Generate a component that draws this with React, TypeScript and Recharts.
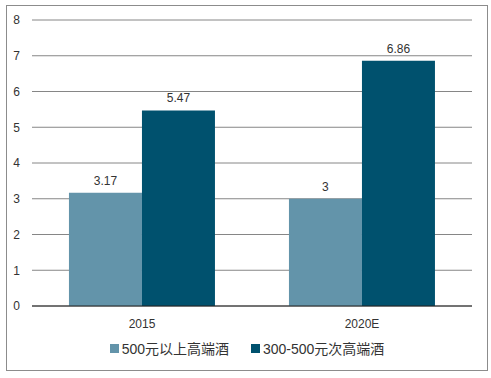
import React from "react";
import {
  BarChart,
  Bar,
  XAxis,
  YAxis,
  CartesianGrid,
  Legend,
  LabelList
} from "recharts";

const categories = ["2015", "2020E"];
const highEnd = [3.17, 3];
const subHighEnd = [5.47, 6.86];
const yTicks = [0, 1, 2, 3, 4, 5, 6, 7, 8];

const seriesNames = ["500元以上高端酒", "300-500元次高端酒"];
const colors = ["#6394aa", "#00516e"];

const data = categories.map((name, i) => ({
  name,
  high: highEnd[i],
  sub: subHighEnd[i]
}));

const font = "'Liberation Sans', Arial, 'Noto Sans CJK SC', sans-serif";

function renderLegend() {
  return (
    <div
      style={{
        display: "flex",
        justifyContent: "center",
        gap: 22,
        fontFamily: font,
        fontSize: 14,
        color: "#333",
        paddingLeft: 22
      }}
    >
      {seriesNames.map((n, i) => (
        <span key={n} style={{ display: "flex", alignItems: "center" }}>
          <span
            style={{
              width: 9,
              height: 9,
              background: colors[i],
              display: "inline-block",
              marginRight: 3
            }}
          />
          {n}
        </span>
      ))}
    </div>
  );
}

export default function App() {
  return (
    <div
      style={{
        position: "absolute",
        left: 0,
        top: 0,
        width: 491,
        height: 378,
        background: "#fff"
      }}
    >
      <div
        style={{
          position: "absolute",
          left: 6,
          top: 5,
          width: 480,
          height: 364,
          border: "1px solid #8c8c8c"
        }}
      />
      <div style={{ position: "absolute", left: 0, top: 0 }}>
        <BarChart
          width={491}
          height={378}
          data={data}
          margin={{ top: 20, right: 19, left: 0, bottom: 18 }}
          barCategoryGap="16.8%"
          barGap={0}
        >
          <CartesianGrid vertical={false} stroke="#868686" strokeWidth={1} />
          <YAxis
            width={32}
            domain={[0, 8]}
            ticks={yTicks}
            axisLine={false}
            tickLine={false}
            tick={{ fontSize: 12, fill: "#333", fontFamily: font }}
            tickMargin={6}
            interval={0}
          />
          <XAxis
            dataKey="name"
            axisLine={{ stroke: "#222", strokeWidth: 1 }}
            tickLine={false}
            tick={{ fontSize: 12, fill: "#333", fontFamily: font }}
            tickMargin={7}
            height={32}
          />
          <Legend
            verticalAlign="bottom"
            height={22}
            content={renderLegend}
          />
          <Bar
            dataKey="high"
            name={seriesNames[0]}
            fill={colors[0]}
            isAnimationActive={false}
          >
            <LabelList
              dataKey="high"
              position="top"
              offset={8}
              style={{ fontSize: 12, fill: "#333", fontFamily: font }}
            />
          </Bar>
          <Bar
            dataKey="sub"
            name={seriesNames[1]}
            fill={colors[1]}
            isAnimationActive={false}
          >
            <LabelList
              dataKey="sub"
              position="top"
              offset={8}
              style={{ fontSize: 12, fill: "#333", fontFamily: font }}
            />
          </Bar>
        </BarChart>
      </div>
    </div>
  );
}
